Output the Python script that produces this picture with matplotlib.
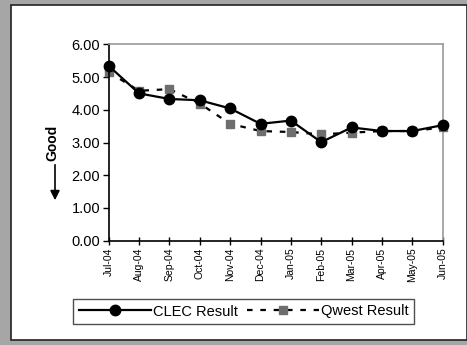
import matplotlib.pyplot as plt
from matplotlib.patches import Rectangle

plt.rcParams["font.family"] = ["Liberation Sans", "DejaVu Sans"]

MONTHS = ["Jul-04", "Aug-04", "Sep-04", "Oct-04", "Nov-04", "Dec-04",
          "Jan-05", "Feb-05", "Mar-05", "Apr-05", "May-05", "Jun-05"]
CLEC = [5.34, 4.50, 4.33, 4.29, 4.04, 3.57, 3.67, 3.01, 3.46, 3.35, 3.35, 3.53]
QWEST = [5.15, 4.58, 4.63, 4.19, 3.57, 3.35, 3.32, 3.25, 3.30, 3.35, 3.35, 3.46]
YTICKS = [0, 1, 2, 3, 4, 5, 6]

W, H = 467, 345
fig = plt.figure(figsize=(W / 100, H / 100), dpi=100)
fig.patch.set_facecolor("#a6a6a6")

# white panel with dark border
fig.patches.append(Rectangle((11 / W, 5 / H), (W - 11) / W, (H - 10) / H,
                             transform=fig.transFigure, facecolor="white",
                             edgecolor="#222222", linewidth=1.2, zorder=-10))

ax = fig.add_axes([108.7 / W, 1 - 240.7 / H, 334 / W, 196.4 / H])
ax.set_zorder(1)
x = list(range(len(MONTHS)))

ax.plot(x, QWEST, color="black", linestyle=(0, (2.5, 3.5)), linewidth=1.6,
        marker="s", markersize=5.5, markerfacecolor="#6e6e6e",
        markeredgecolor="#6e6e6e", label="Qwest Result", zorder=2, clip_on=False)
ax.plot(x, CLEC, color="black", linewidth=1.6, marker="o", markersize=7.5,
        markerfacecolor="black", label="CLEC Result", zorder=3, clip_on=False)

ax.set_xlim(0, len(MONTHS) - 1)
ax.set_ylim(0, 6)
ax.set_yticks(YTICKS)
ax.set_yticklabels([f"{v:.2f}" for v in YTICKS], fontsize=10.5)
ax.set_xticks(x)
ax.set_xticklabels(MONTHS, rotation=90, fontsize=7.5)
ax.tick_params(axis="both", direction="out", length=4, width=1, pad=2)
ax.tick_params(axis="x", direction="inout", length=6)

for s in ["top", "right"]:
    ax.spines[s].set_color("#999999")
    ax.spines[s].set_linewidth(1.2)
for s in ["left", "bottom"]:
    ax.spines[s].set_color("black")
    ax.spines[s].set_linewidth(1.2)

# "Good" label with arrow
fig.text(52 / W, 1 - 143 / H, "Good", rotation=90, fontsize=10,
         fontweight="bold", ha="center", va="center")
fig.add_artist(plt.Annotation("", xy=(55 / W, 1 - 203 / H),
                              xytext=(55 / W, 1 - 162 / H),
                              xycoords="figure fraction",
                              arrowprops=dict(arrowstyle="-|>", color="black",
                                              lw=1.2, mutation_scale=14)))

handles, labels = ax.get_legend_handles_labels()
leg = fig.legend(handles[::-1], labels[::-1], loc="center",
                 bbox_to_anchor=(243.5 / W, 1 - 311.5 / H), ncol=2,
                 fontsize=10.5, frameon=True, fancybox=False,
                 handlelength=5.0, handletextpad=0.1, columnspacing=0.6,
                 borderpad=0.35, borderaxespad=0)
leg.get_frame().set_edgecolor("#222222")
leg.get_frame().set_linewidth(1.0)

fig.savefig("out.png", dpi=100, facecolor=fig.get_facecolor())
